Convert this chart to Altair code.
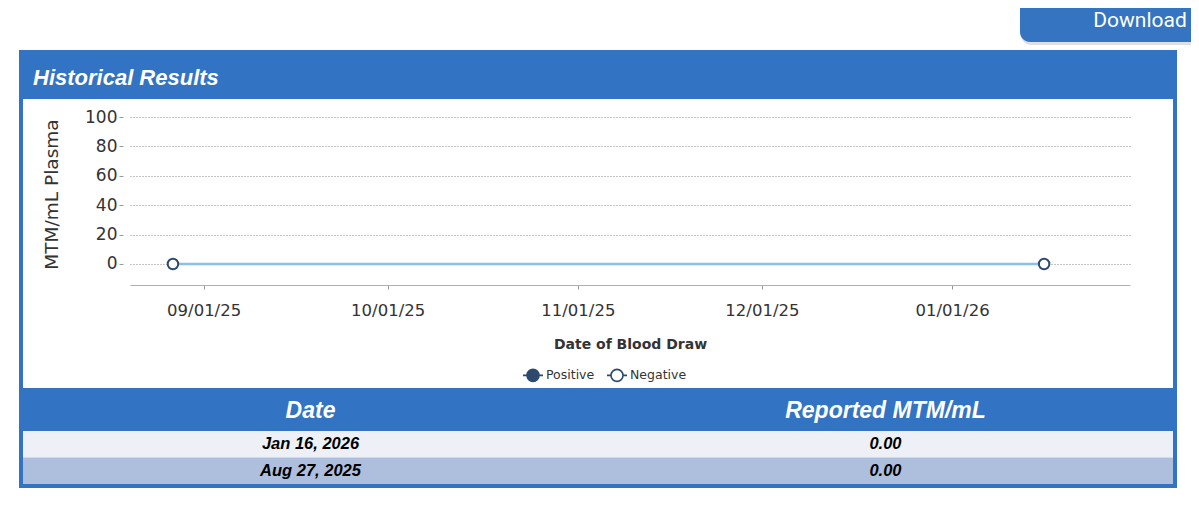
import altair as alt
import pandas as pd

# ---------------- data ----------------
draw_dates = ["2025-08-27", "2026-01-16"]
mtm_values = [0.0, 0.0]
result_status = ["Negative", "Negative"]
status_domain = ["Positive", "Negative"]
y_ticks = [0, 20, 40, 60, 80, 100]
x_tick_dates = [(2025, 9, 1), (2025, 10, 1), (2025, 11, 1), (2025, 12, 1), (2026, 1, 1)]
x_domain = [(2025, 8, 20), (2026, 1, 30)]
table_headers = ["Date", "Reported MTM/mL"]
table_dates = ["Jan 16, 2026", "Aug 27, 2025"]
table_values = ["0.00", "0.00"]
chart_title = "Historical Results"
button_label = "Download"

# ---------------- styles ----------------
BLUE = "#3373C4"
NAVY = "#2d4a6e"
LINE = "#8cc0e8"
ROW_COLORS = ["#EDF0F6", "#AEBFDD"]
AXIS_FONT = "DejaVu Sans"
UI_FONT = "Liberation Sans"


def dt(t):
    return alt.DateTime(year=t[0], month=t[1], date=t[2], utc=True)


pts = pd.DataFrame({"date": draw_dates, "value": mtm_values, "status": result_status})

x_enc = alt.X(
    "date:T",
    scale=alt.Scale(type="utc", domain=[dt(d) for d in x_domain]),
    axis=alt.Axis(
        values=[dt(t) for t in x_tick_dates],
        format="%m/%d/%y",
        title="Date of Blood Draw",
        grid=False,
        domainColor="#b0b0b0",
        tickColor="#999999",
        tickSize=4,
        labelFont=AXIS_FONT,
        labelFontSize=16.5,
        labelColor="#333333",
        labelPadding=13,
        titleFont=AXIS_FONT,
        titleFontSize=14,
        titleFontWeight="bold",
        titleColor="#333333",
        titlePadding=19,
    ),
)
y_enc = alt.Y(
    "value:Q",
    scale=alt.Scale(domain=[-14.3, 100], nice=False, zero=False),
    axis=alt.Axis(
        values=y_ticks,
        title="MTM/mL Plasma",
        grid=True,
        gridDash=[1, 2],
        gridColor="#888888",
        domain=False,
        offset=7,
        tickColor="#999999",
        tickSize=4,
        labelFont=AXIS_FONT,
        labelFontSize=17,
        labelColor="#333333",
        labelPadding=2,
        titleFont=AXIS_FONT,
        titleFontSize=18.5,
        titleFontWeight="normal",
        titleColor="#333333",
        titlePadding=23,
        titleY=77,
    ),
)

sym_path = "M-1,0L-0.6,0M0.6,0L1,0M-0.6,0A0.6,0.6,0,1,1,0.6,0A0.6,0.6,0,1,1,-0.6,0Z"

line = alt.Chart(pts).mark_line(color=LINE, strokeWidth=2.5).encode(x=x_enc, y=y_enc)
points = alt.Chart(pts).mark_point(
    filled=True, shape="circle", size=110, stroke=NAVY, strokeWidth=2, opacity=1
).encode(
    x=x_enc,
    y=y_enc,
    fill=alt.Fill(
        "status:N",
        scale=alt.Scale(domain=status_domain, range=[NAVY, "#ffffff"]),
        legend=alt.Legend(
            title=None,
            orient="none",
            legendX=392,
            legendY=247,
            direction="horizontal",
            symbolType=sym_path,
            symbolSize=400,
            symbolStrokeColor=NAVY,
            symbolStrokeWidth=1.6,
            labelFont=AXIS_FONT,
            labelFontSize=12.5,
            labelColor="#333333",
            labelOffset=2,
            columnPadding=8,
            padding=0,
        ),
    ),
)
main = alt.layer(line, points)

# ---------------- table ----------------
n_rows = len(table_dates)
cells = pd.DataFrame(
    {
        "col": [table_headers[0]] * n_rows + [table_headers[1]] * n_rows,
        "row": list(range(n_rows)) * 2,
        "text": table_dates + table_values,
    }
)
rows_df = pd.DataFrame({"row": list(range(n_rows))})
header_df = pd.DataFrame({"col": table_headers})

row_scale = alt.Scale(type="band", domain=list(range(n_rows)), range=[314, 367],
                      paddingInner=0, paddingOuter=0)
col_scale = alt.Scale(type="point", domain=table_headers, range=[-107, 1043], padding=0.5)

row_rects = alt.Chart(rows_df).mark_rect().encode(
    x=alt.value(-107),
    x2=alt.value(1043),
    y=alt.Y("row:O", scale=row_scale, axis=None),
    color=alt.Color("row:O", scale=alt.Scale(domain=list(range(n_rows)), range=ROW_COLORS), legend=None),
)
cell_text = alt.Chart(cells).mark_text(
    font=UI_FONT, fontSize=16.5, fontWeight="bold", fontStyle="italic", color="#000000", baseline="middle"
).encode(
    x=alt.X("col:N", scale=col_scale, axis=None),
    y=alt.Y("row:O", scale=row_scale, axis=None, bandPosition=0.5),
    text="text:N",
)
header_text = alt.Chart(header_df).mark_text(
    font=UI_FONT, fontSize=23, fontWeight="bold", fontStyle="italic", color="#ffffff", baseline="middle"
).encode(
    x=alt.X("col:N", scale=col_scale, axis=None),
    y=alt.value(294),
    text="col:N",
)
table = alt.layer(row_rects, header_text, cell_text)

# ---------------- panel decorations ----------------
one = pd.DataFrame({"k": [0]})
title_band = alt.Chart(one).mark_rect(fill=BLUE).encode(
    x=alt.value(-111), x2=alt.value(1047), y=alt.value(-67), y2=alt.value(-18)
)
header_band = alt.Chart(one).mark_rect(fill=BLUE).encode(
    x=alt.value(-111), x2=alt.value(1047), y=alt.value(271), y2=alt.value(314)
)
frame = alt.Chart(one).mark_rect(fill="transparent", stroke=BLUE, strokeWidth=4).encode(
    x=alt.value(-109), x2=alt.value(1045), y=alt.value(-65), y2=alt.value(369)
)
title_text = alt.Chart(one).mark_text(
    text=chart_title, font=UI_FONT, fontSize=22, fontWeight="bold", fontStyle="italic",
    color="#ffffff", align="left", baseline="middle"
).encode(x=alt.value(-97), y=alt.value(-39))

btn_shadow = alt.Chart(one).mark_rect(fill="#000000", opacity=0.12, cornerRadius=10).encode(
    x=alt.value(891), x2=alt.value(1080), y=alt.value(-140), y2=alt.value(-72)
)
button = alt.Chart(one).mark_rect(fill="#3474C0", cornerRadius=10).encode(
    x=alt.value(890), x2=alt.value(1080), y=alt.value(-140), y2=alt.value(-75)
)
button_text = alt.Chart(one).mark_text(
    text=button_label, font="Roboto", fontSize=21, color="#ffffff", align="center", baseline="alphabetic"
).encode(x=alt.value(1010), y=alt.value(-90))

chart = alt.layer(
    btn_shadow, button, button_text,
    title_band, header_band, frame, title_text,
    main, table,
).resolve_scale(
    x="independent", y="independent", color="independent", fill="independent"
).properties(
    width=1000,
    height=168,
    autosize="none",
    padding={"left": 122, "top": 109, "right": 61, "bottom": 237},
    background="#ffffff",
).configure_view(strokeWidth=0)

chart.save("out.html", embed_options={"renderer": "svg", "actions": False})
